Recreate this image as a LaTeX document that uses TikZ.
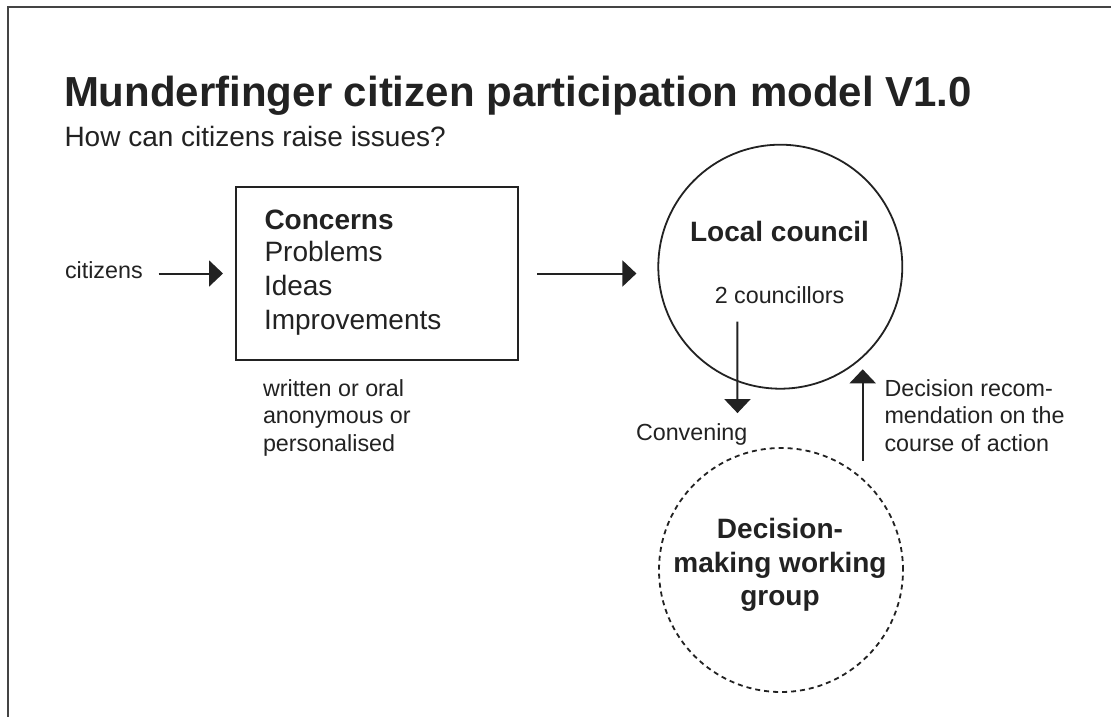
\documentclass[tikz,border=0pt]{standalone}
\usepackage{fontspec}
\setmainfont{Liberation Sans}
\usetikzlibrary{arrows.meta,calc}
\definecolor{ink}{HTML}{222222}
\definecolor{framec}{HTML}{444444}
\begin{document}
\begin{tikzpicture}[x=1pt,y=-1pt,
  txt/.style={inner sep=0pt, outer sep=0pt, text=ink, anchor=base west},
  ctxt/.style={inner sep=0pt, outer sep=0pt, text=ink, anchor=base},
  titlefont/.style={font=\fontsize{42}{50}\selectfont\bfseries},
  bigfont/.style={font=\fontsize{28}{33}\selectfont},
  bigbold/.style={font=\fontsize{28}{33}\selectfont\bfseries},
  smallfont/.style={font=\fontsize{23.3}{28}\selectfont},
  arr/.style={draw=ink, line width=2pt, -{Triangle[length=14pt,width=26pt]}},
  boxstyle/.style={draw=ink, line width=2pt, rectangle, inner sep=0pt, minimum width=282pt, minimum height=173pt},
  circ/.style={draw=ink, line width=1.8pt, circle, inner sep=0pt, minimum size=244pt},
  dcirc/.style={circ, dash pattern=on 5pt off 4pt}
]
\useasboundingbox (0,0) rectangle (1111,717);
\fill[white] (0,0) rectangle (1111,717);
\draw[framec, line width=2pt] (8,730) -- (8,7) -- (1120,7);

% titles
\node[txt, titlefont] (title) at (64,106.7) {Munderfinger citizen participation model V1.0};
\node[txt, bigfont] (subtitle) at (64.5,146) {How can citizens raise issues?};

% box
\node[boxstyle] (box) at (377,273.5) {};
\node[txt, bigbold] (concerns) at (264.5,229) {Concerns};
\node[txt, bigfont] (problems) at (264.5,261) {Problems};
\node[txt, bigfont] (ideas) at (264,295.5) {Ideas};
\node[txt, bigfont] (improv) at (264,329) {Improvements};

\node[txt, smallfont] (w1) at (263,396) {written or oral};
\node[txt, smallfont] (w2) at (263,423.8) {anonymous or};
\node[txt, smallfont] (w3) at (263,451.6) {personalised};

% citizens
\node[txt, smallfont] (cit) at (65,278) {citizens};

% local council
\node[circ] (lc) at (780.3,266.7) {};
\node[ctxt, bigbold] (lctitle) at (779.5,241.7) {Local council};
\node[ctxt, smallfont] (lcsub) at (779.5,303.3) {2 councillors};

% decision-making group
\node[dcirc] (dg) at (781,570) {};
\node[ctxt, bigbold] (dg1) at (780,538.5) {Decision-};
\node[ctxt, bigbold] (dg2) at (780,572) {making working};
\node[ctxt, bigbold] (dg3) at (780,605.5) {group};

% labels
\node[txt, smallfont] (conv) at (636,440) {Convening};
\node[txt, smallfont] (r1) at (884.5,396) {Decision recom-};
\node[txt, smallfont] (r2) at (884.5,423.8) {mendation on the};
\node[txt, smallfont] (r3) at (884.5,451.6) {course of action};

% connectors
\draw[arr] ($(cit.east |- box.west)+(16,0)$) -- ($(box.west)+(-12,0)$);
\draw[arr] ($(box.east)+(18,0)$) -- ($(lc.west |- box.east)+(-21,0)$);
\draw[arr] ($(lc.center)+(-43,55)$) -- ($(dg.north)+(-43.5,-34)$);
\draw[arr] ($(dg.north)+(81.7,13.7)$) -- ($(lc.center)+(82.4,102.6)$);
\end{tikzpicture}
\end{document}
